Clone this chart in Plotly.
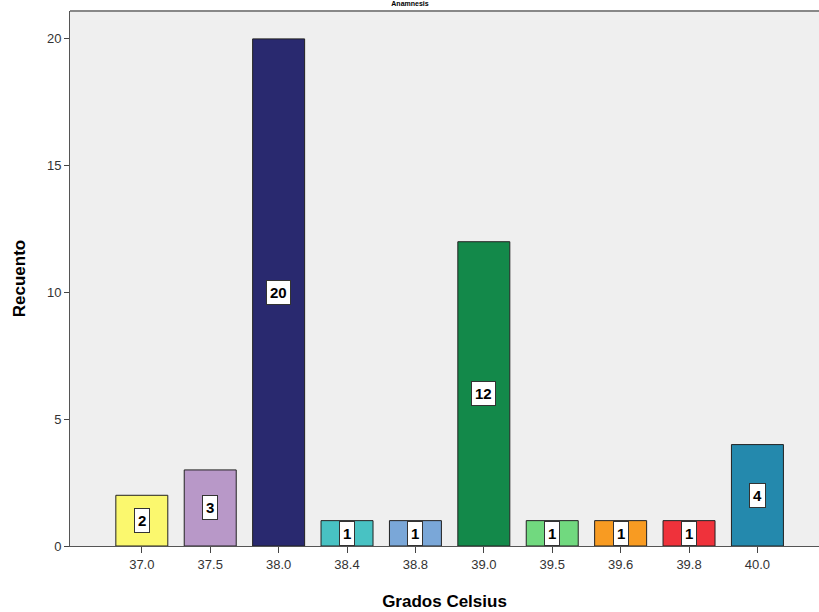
import plotly.graph_objects as go

categories = ["37.0", "37.5", "38.0", "38.4", "38.8", "39.0", "39.5", "39.6", "39.8", "40.0"]
counts = [2, 3, 20, 1, 1, 12, 1, 1, 1, 4]
colors = ["#fbf86e", "#b898c8", "#29296f", "#48c2c3", "#7aa7d8", "#13894a",
          "#71d97f", "#f89b22", "#ef323b", "#2489ad"]
y_ticks = [0, 5, 10, 15, 20]

fig = go.Figure()
fig.add_trace(go.Bar(
    x=categories, y=counts,
    marker=dict(color=colors, line=dict(color="#222222", width=1)),
    width=0.76, showlegend=False, hoverinfo="x+y",
))

for i, v in enumerate(counts):
    fig.add_annotation(
        x=i, y=v / 2, text=f"<b>{v}</b>", showarrow=False,
        xref="x", yref="y",
        font=dict(family="Liberation Sans", size=15, color="black"),
        bgcolor="white", bordercolor="#333333", borderwidth=1, borderpad=3,
    )

fig.update_layout(
    width=819, height=612,
    margin=dict(l=70, r=0, t=11, b=66),
    paper_bgcolor="white", plot_bgcolor="#efefef",
    title=dict(text="<b>Anamnesis</b>", x=410 / 819, xanchor="center",
               y=1 - 1.5 / 612, yanchor="top", yref="container", pad=dict(t=0, b=0),
               font=dict(family="Liberation Sans", size=7, color="black")),
    xaxis=dict(
        type="category", range=[-1.05, 9.9],
        showline=True, linecolor="#555555", linewidth=1,
        ticks="outside", ticklen=6, tickcolor="#444444",
        tickfont=dict(family="Liberation Sans", size=13, color="#333333"),
        showgrid=False, zeroline=False,
        title=dict(text="<b>Grados Celsius</b>", standoff=24,
                   font=dict(family="Liberation Sans", size=17, color="black")),
    ),
    yaxis=dict(
        range=[0, 21.1], tickvals=y_ticks,
        showline=True, linecolor="#555555", linewidth=1,
        ticks="outside", ticklen=5, tickcolor="#444444",
        tickfont=dict(family="Liberation Sans", size=13, color="#333333"),
        showgrid=False, zeroline=False,
        title=dict(text="<b>Recuento</b>", standoff=16,
                   font=dict(family="Liberation Sans", size=17, color="black")),
    ),
    shapes=[dict(type="line", xref="paper", yref="paper", x0=0, x1=1, y0=1, y1=1,
                 line=dict(color="#888888", width=2))],
)

fig.write_html("out.html")
